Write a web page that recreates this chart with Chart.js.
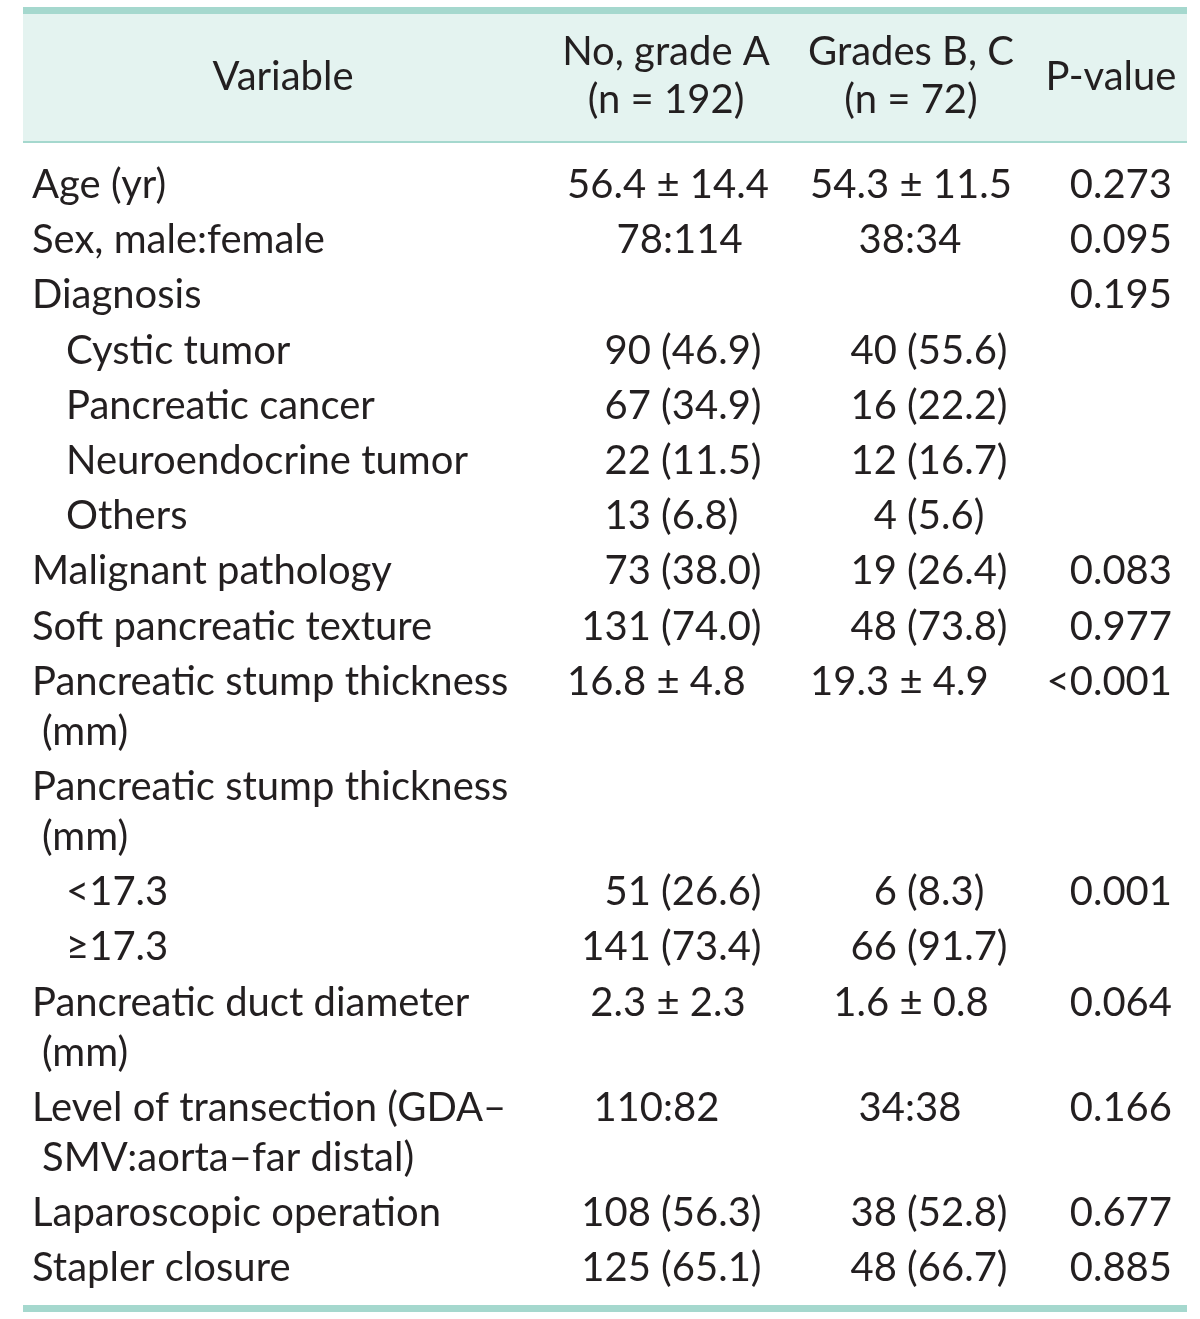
<!DOCTYPE html>
<html lang="en">
<head>
<meta charset="UTF-8" />
<title>Pancreatic fistula grades</title>
<script src="https://cdn.jsdelivr.net/npm/chart.js"></script>
<style>
  html, body { margin: 0; padding: 0; background: #fff; }
  #wrap { width: 1200px; height: 1319px; position: relative; }
</style>
</head>
<body>
<div id="wrap"><canvas id="tabela"></canvas></div>

<script>
// table contents
const headers = ['Variable', 'No, grade A\n(n = 192)', 'Grades B, C\n(n = 72)', 'P-value'];

const variables = [
  'Age (yr)', 'Sex, male:female', 'Diagnosis', 'Cystic tumor', 'Pancreatic cancer',
  'Neuroendocrine tumor', 'Others', 'Malignant pathology', 'Soft pancreatic texture',
  'Pancreatic stump thickness\n(mm)', 'Pancreatic stump thickness\n(mm)', '<17.3', '≥17.3',
  'Pancreatic duct diameter\n(mm)', 'Level of transection (GDA–\nSMV:aorta–far distal)',
  'Laparoscopic operation', 'Stapler closure'
];
// 1 = sub-item under the row above
const subItem = [0, 0, 0, 1, 1, 1, 1, 0, 0, 0, 0, 1, 1, 0, 0, 0, 0];

const gradeA = [
  '56.4 ± 14.4', '78:114', '', '90 (46.9)', '67 (34.9)', '22 (11.5)', '13 (6.8)',
  '73 (38.0)', '131 (74.0)', '16.8 ± 4.8', '', '51 (26.6)', '141 (73.4)',
  '2.3 ± 2.3', '110:82', '108 (56.3)', '125 (65.1)'
];
const gradeBC = [
  '54.3 ± 11.5', '38:34', '', '40 (55.6)', '16 (22.2)', '12 (16.7)', '4 (5.6)',
  '19 (26.4)', '48 (73.8)', '19.3 ± 4.9', '', '6 (8.3)', '66 (91.7)',
  '1.6 ± 0.8', '34:38', '38 (52.8)', '48 (66.7)'
];
const pValues = [
  '0.273', '0.095', '0.195', '', '', '', '', '0.083', '0.977', '<0.001', '',
  '0.001', '', '0.064', '0.166', '0.677', '0.885'
];

// layout (x in px of the x scale, y in row units of the y scale)
const ROW_PX = 55.2;
const FIRST_ROW_PX = 185;
const CONT = 50 / ROW_PX;          // step of a wrapped line
const FONT = '40px Lato';
const INK = '#231f20';
const TEAL = '#a5d8ce';
const BAND = '#e4f3f0';

const colX = {
  label: 32, subIndent: 34, wrapIndent: 10,
  headVar: 283, headA: 666, headB: 911, headP: 1111,
  a: { pm: 668, split: 656, colon: 668 },
  b: { pm: 911, split: 902, colon: 910 },
  p: 1172,
  left: 23, right: 1187
};

const px2row = p => (p - FIRST_ROW_PX) / ROW_PX;

// row positions from the number of lines per label
const rowY = [];
let acc = 0;
variables.forEach((v, i) => {
  rowY.push(acc);
  acc += 1 + (v.split('\n').length - 1) * CONT;
});

// left part right-aligned before the separator, rest left-aligned after it
function splitDraw(ctx, left, sep, right, x, y) {
  const w = ctx.measureText(sep).width;
  ctx.textAlign = 'center'; ctx.fillText(sep, x, y);
  ctx.textAlign = 'right'; ctx.fillText(left, x - w / 2, y);
  ctx.textAlign = 'left'; ctx.fillText(right, x + w / 2, y);
}

function drawCell(ctx, text, xs, col, y) {
  if (!text) return;
  if (text.includes('±')) {
    const [l, r] = text.split('±');
    splitDraw(ctx, l, '±', r, xs.getPixelForValue(col.pm), y);
  } else if (text.includes(' (')) {
    const i = text.indexOf(' (');
    splitDraw(ctx, text.slice(0, i), ' ', text.slice(i + 1), xs.getPixelForValue(col.split), y);
  } else {
    const [l, r] = text.split(':');
    splitDraw(ctx, l, ':', r, xs.getPixelForValue(col.colon), y);
  }
}

const tablePlugin = {
  id: 'tabela',
  beforeDatasetsDraw(chart) {
    const { ctx, scales: { x, y } } = chart;
    const L = x.getPixelForValue(colX.left), R = x.getPixelForValue(colX.right);
    ctx.save();
    // header band
    const bt = y.getPixelForValue(px2row(14)), bb = y.getPixelForValue(px2row(142));
    ctx.fillStyle = BAND;
    ctx.fillRect(L, bt, R - L, bb - bt);
    // rules
    ctx.fillStyle = TEAL;
    ctx.fillRect(L, y.getPixelForValue(px2row(7)), R - L, 7);
    ctx.fillRect(L, bb - 1, R - L, 2);
    ctx.fillRect(L, y.getPixelForValue(px2row(1305)), R - L, 7);
    ctx.restore();
  },
  afterDatasetsDraw(chart) {
    const { ctx, scales: { x, y } } = chart;
    ctx.save();
    ctx.font = FONT;
    ctx.fillStyle = INK;
    ctx.textBaseline = 'middle';

    // header
    ctx.textAlign = 'center';
    const hx = [colX.headVar, colX.headA, colX.headB, colX.headP];
    headers.forEach((h, i) => {
      const lines = h.split('\n');
      if (lines.length === 1) {
        ctx.fillText(h, x.getPixelForValue(hx[i]), y.getPixelForValue(px2row(77)));
      } else {
        ctx.fillText(lines[0], x.getPixelForValue(hx[i]), y.getPixelForValue(px2row(52)));
        ctx.fillText(lines[1], x.getPixelForValue(hx[i]), y.getPixelForValue(px2row(100)));
      }
    });

    // body
    variables.forEach((v, i) => {
      const yy = y.getPixelForValue(rowY[i]);
      const lx = colX.label + (subItem[i] ? colX.subIndent : 0);
      ctx.textAlign = 'left';
      v.split('\n').forEach((line, k) => {
        const xx = x.getPixelForValue(lx + (k ? colX.wrapIndent : 0));
        ctx.fillText(line, xx, y.getPixelForValue(rowY[i] + k * CONT));
      });
      drawCell(ctx, gradeA[i], x, colX.a, yy);
      drawCell(ctx, gradeBC[i], x, colX.b, yy);
      if (pValues[i]) {
        ctx.textAlign = 'right';
        ctx.fillText(pValues[i], x.getPixelForValue(colX.p), yy);
      }
    });
    ctx.restore();
  }
};

new Chart(document.getElementById('tabela'), {
  type: 'scatter',
  data: { datasets: [] },
  options: {
    responsive: true,
    maintainAspectRatio: false,
    animation: false,
    layout: { padding: 0 },
    plugins: { legend: { display: false }, tooltip: { enabled: false } },
    scales: {
      x: { type: 'linear', display: false, min: 0, max: 1200 },
      y: { type: 'linear', display: false, reverse: true,
           min: px2row(0), max: px2row(1319) }
    }
  },
  plugins: [tablePlugin]
});
</script>
</body>
</html>
